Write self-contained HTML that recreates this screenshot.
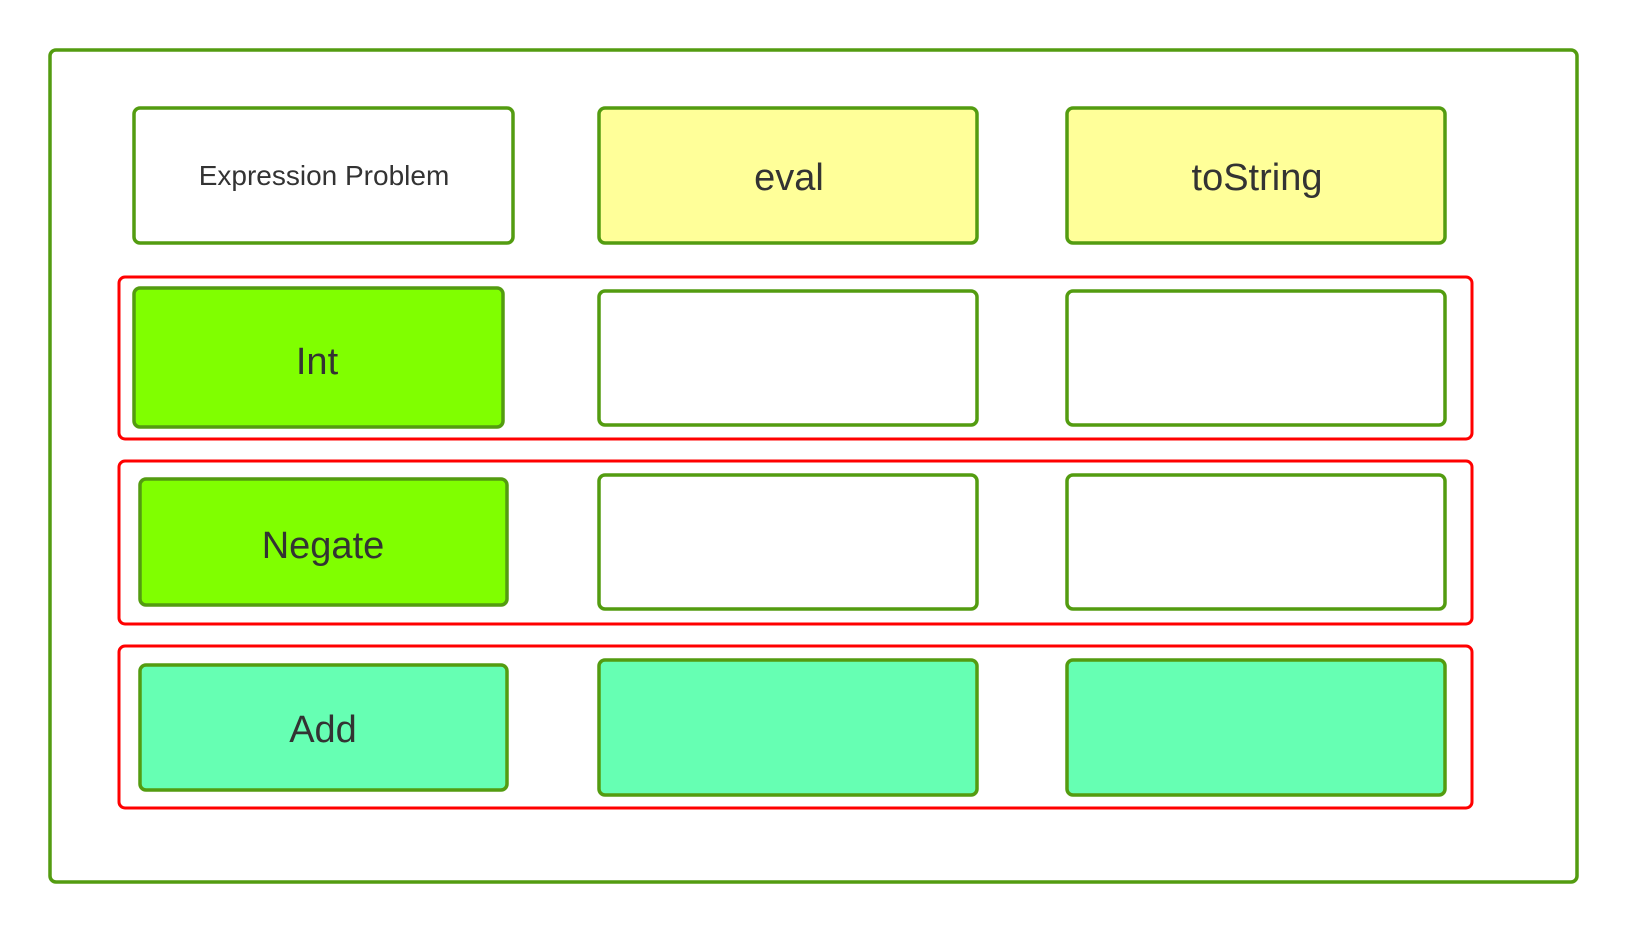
<!DOCTYPE html>
<html><head><meta charset="utf-8"><style>html,body{margin:0;padding:0;background:#fff}svg{display:block}</style></head>
<body>
<svg width="1626" height="930" viewBox="0 0 1626 930" xmlns="http://www.w3.org/2000/svg" font-family="'Liberation Sans', sans-serif" fill="none">
<g stroke="#539c10" stroke-width="3.5">
<rect x="50" y="50" width="1527" height="832" rx="6" fill="#fff"/>
</g>
<g stroke="#ff0000" stroke-width="3">
<rect x="119" y="277" width="1353" height="162" rx="6" fill="#fff"/>
<rect x="119" y="461" width="1353" height="163" rx="6" fill="#fff"/>
<rect x="119" y="646" width="1353" height="162" rx="6" fill="#fff"/>
</g>
<g stroke="#539c10" stroke-width="3.5">
<rect x="134" y="108" width="379" height="135" rx="6" fill="#fff"/>
<rect x="599" y="108" width="378" height="135" rx="6" fill="#ffff99"/>
<rect x="1067" y="108" width="378" height="135" rx="6" fill="#ffff99"/>
<rect x="134" y="288" width="369" height="139" rx="6" fill="#80ff00"/>
<rect x="599" y="291" width="378" height="134" rx="6" fill="#fff"/>
<rect x="1067" y="291" width="378" height="134" rx="6" fill="#fff"/>
<rect x="140" y="479" width="367" height="126" rx="6" fill="#80ff00"/>
<rect x="599" y="475" width="378" height="134" rx="6" fill="#fff"/>
<rect x="1067" y="475" width="378" height="134" rx="6" fill="#fff"/>
<rect x="140" y="665" width="367" height="125" rx="6" fill="#66ffb3"/>
<rect x="599" y="660" width="378" height="135" rx="6" fill="#66ffb3"/>
<rect x="1067" y="660" width="378" height="135" rx="6" fill="#66ffb3"/>
</g>
<g fill="#333" text-anchor="middle">
<text x="324" y="185" font-size="28">Expression Problem</text>
<text x="789" y="190" font-size="38">eval</text>
<text x="1257" y="190" font-size="38">toString</text>
<text x="317" y="374" font-size="38">Int</text>
<text x="323" y="558" font-size="38">Negate</text>
<text x="323" y="742" font-size="38">Add</text>
</g>
</svg>
</body></html>
